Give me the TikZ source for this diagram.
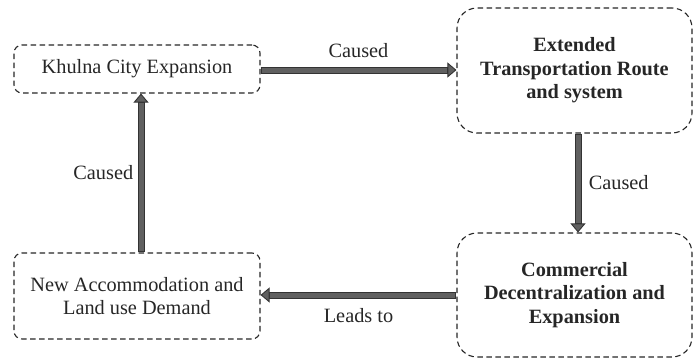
\documentclass[tikz,border=0pt]{standalone}
\usepackage{fontspec}
\setmainfont{Liberation Serif}
\usetikzlibrary{arrows.meta}
\begin{document}
\begin{tikzpicture}[x=1pt,y=1pt,
  txt/.style={text=black!85, font=\fontsize{20.3}{23.5}\selectfont},
  sbox/.style={draw=black!85, line width=1.1pt, dash pattern=on 5.5pt off 3.5pt, rounded corners=8pt, align=center, inner sep=2pt, txt},
  bbox/.style={sbox, rounded corners=20pt, font=\fontsize{20.3}{23.5}\selectfont\bfseries},
  arr/.style={draw=black!80, line width=7pt,
    -{Triangle[length=9pt,width=15pt,line width=0.9pt,fill=gray!75!black]},
    postaction={draw=gray!75!black, line width=5pt, -, shorten >=9pt, shorten <=1pt}},
  lab/.style={txt}]
\useasboundingbox (0,0) rectangle (694,360);
\node[sbox, minimum width=246pt, minimum height=48pt] (b1) at (137,291) {Khulna City Expansion};
\node[bbox, minimum width=235pt, minimum height=125pt] (b2) at (574.5,289.5) {Extended\\Transportation Route\\and system};
\node[bbox, minimum width=235pt, minimum height=124pt] (b3) at (574.5,65) {Commercial\\Decentralization and\\Expansion};
\node[sbox, minimum width=246pt, minimum height=86pt] (b4) at (137,64) {New Accommodation and\\Land use Demand};
\coordinate (t1) at ([yshift=-1pt]b1.east);
\draw[arr] (t1) -- (t1 -| b2.west) node[midway, above=5pt, lab] (l1) {Caused};
\coordinate (r1) at ([xshift=3.5pt]b2.south);
\draw[arr] (r1) -- (r1 |- b3.north) node[midway, right=4pt, lab] (l2) {Caused};
\draw[arr] (b3.west) -- (b3.west -| b4.east) node[midway, below=7pt, lab] (l3) {Leads to};
\coordinate (u1) at ([xshift=4pt]b4.north);
\draw[arr] (u1) -- (u1 |- b1.south) node[midway, left=1pt, lab] (l4) {Caused};
\end{tikzpicture}
\end{document}
